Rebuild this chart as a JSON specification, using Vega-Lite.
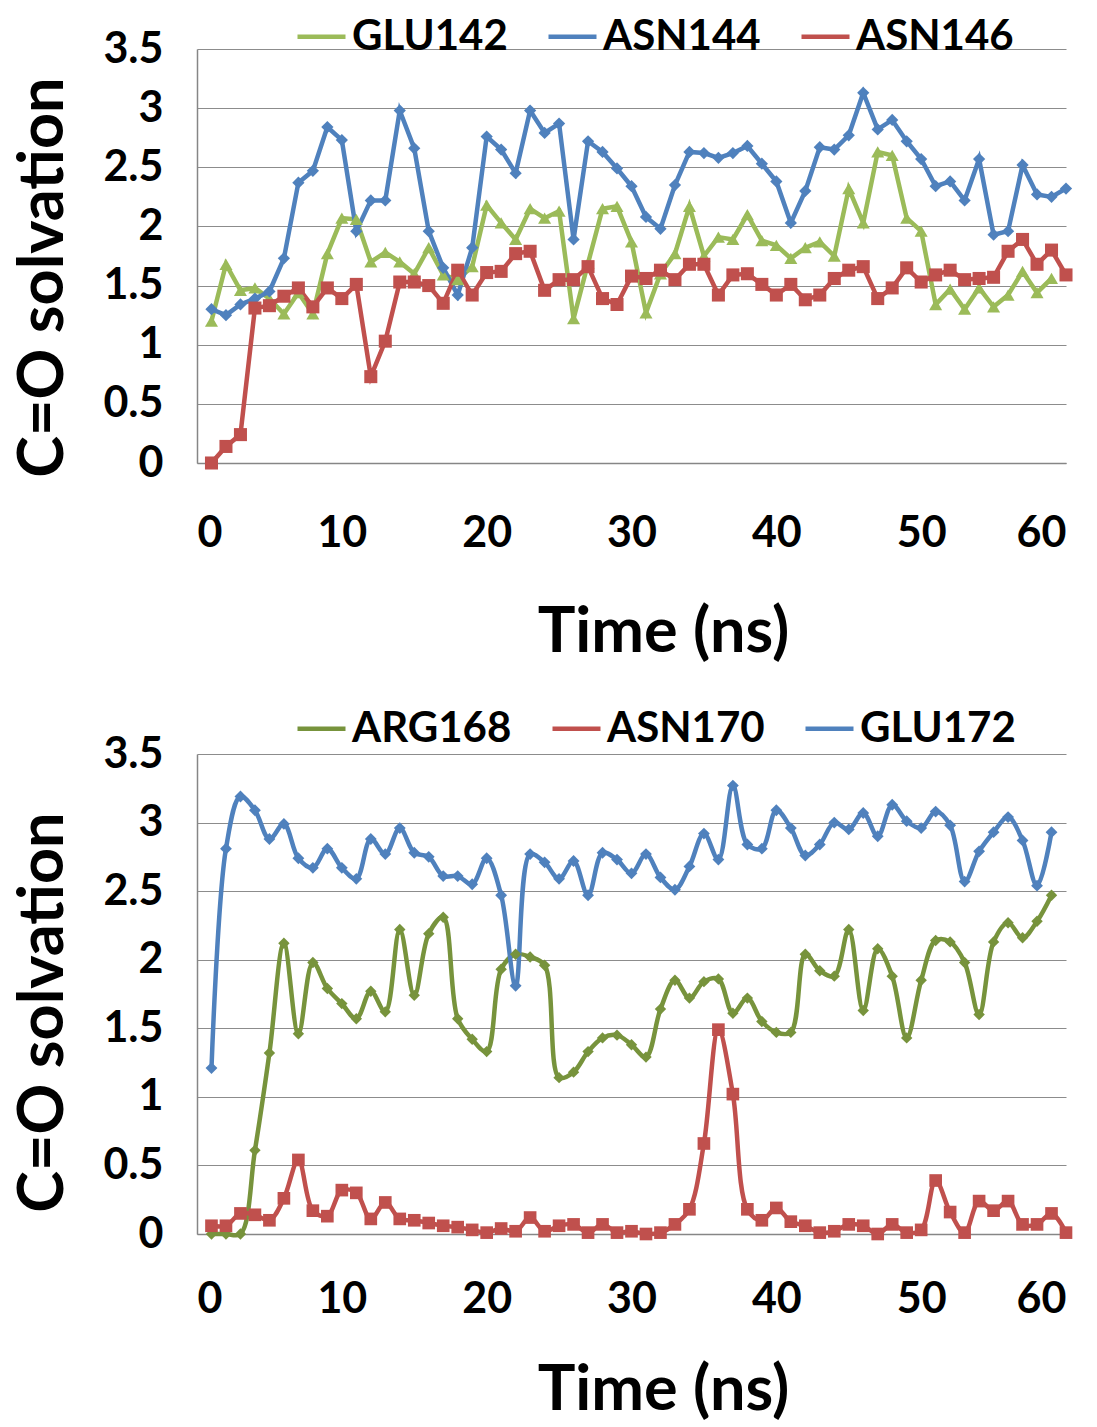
{
  "$schema": "https://vega.github.io/schema/vega-lite/v6.json",
  "padding": {"left": 12, "top": 10, "right": 5, "bottom": 0},
  "background": "white",
  "spacing": 38,
  "datasets": {
    "top": [
      {"t":1,"GLU142":1.20,"ASN144":1.30,"ASN146":0.00},
      {"t":2,"GLU142":1.68,"ASN144":1.25,"ASN146":0.14},
      {"t":3,"GLU142":1.46,"ASN144":1.34,"ASN146":0.24},
      {"t":4,"GLU142":1.48,"ASN144":1.39,"ASN146":1.31},
      {"t":5,"GLU142":1.39,"ASN144":1.45,"ASN146":1.33},
      {"t":6,"GLU142":1.26,"ASN144":1.73,"ASN146":1.41},
      {"t":7,"GLU142":1.44,"ASN144":2.37,"ASN146":1.48},
      {"t":8,"GLU142":1.26,"ASN144":2.47,"ASN146":1.32},
      {"t":9,"GLU142":1.77,"ASN144":2.84,"ASN146":1.48},
      {"t":10,"GLU142":2.07,"ASN144":2.73,"ASN146":1.39},
      {"t":11,"GLU142":2.06,"ASN144":1.96,"ASN146":1.51},
      {"t":12,"GLU142":1.70,"ASN144":2.22,"ASN146":0.73},
      {"t":13,"GLU142":1.78,"ASN144":2.22,"ASN146":1.03},
      {"t":14,"GLU142":1.70,"ASN144":2.98,"ASN146":1.53},
      {"t":15,"GLU142":1.60,"ASN144":2.66,"ASN146":1.53},
      {"t":16,"GLU142":1.82,"ASN144":1.96,"ASN146":1.50},
      {"t":17,"GLU142":1.59,"ASN144":1.65,"ASN146":1.35},
      {"t":18,"GLU142":1.55,"ASN144":1.42,"ASN146":1.63},
      {"t":19,"GLU142":1.66,"ASN144":1.82,"ASN146":1.42},
      {"t":20,"GLU142":2.18,"ASN144":2.76,"ASN146":1.61},
      {"t":21,"GLU142":2.03,"ASN144":2.65,"ASN146":1.62},
      {"t":22,"GLU142":1.89,"ASN144":2.45,"ASN146":1.77},
      {"t":23,"GLU142":2.15,"ASN144":2.98,"ASN146":1.79},
      {"t":24,"GLU142":2.07,"ASN144":2.79,"ASN146":1.46},
      {"t":25,"GLU142":2.13,"ASN144":2.87,"ASN146":1.55},
      {"t":26,"GLU142":1.22,"ASN144":1.89,"ASN146":1.55},
      {"t":27,"GLU142":1.69,"ASN144":2.72,"ASN146":1.66},
      {"t":28,"GLU142":2.15,"ASN144":2.63,"ASN146":1.39},
      {"t":29,"GLU142":2.17,"ASN144":2.49,"ASN146":1.34},
      {"t":30,"GLU142":1.87,"ASN144":2.34,"ASN146":1.58},
      {"t":31,"GLU142":1.27,"ASN144":2.08,"ASN146":1.56},
      {"t":32,"GLU142":1.60,"ASN144":1.98,"ASN146":1.63},
      {"t":33,"GLU142":1.77,"ASN144":2.35,"ASN146":1.55},
      {"t":34,"GLU142":2.17,"ASN144":2.63,"ASN146":1.68},
      {"t":35,"GLU142":1.75,"ASN144":2.62,"ASN146":1.68},
      {"t":36,"GLU142":1.91,"ASN144":2.58,"ASN146":1.42},
      {"t":37,"GLU142":1.89,"ASN144":2.62,"ASN146":1.59},
      {"t":38,"GLU142":2.10,"ASN144":2.68,"ASN146":1.60},
      {"t":39,"GLU142":1.88,"ASN144":2.53,"ASN146":1.51},
      {"t":40,"GLU142":1.84,"ASN144":2.38,"ASN146":1.42},
      {"t":41,"GLU142":1.73,"ASN144":2.03,"ASN146":1.51},
      {"t":42,"GLU142":1.82,"ASN144":2.30,"ASN146":1.38},
      {"t":43,"GLU142":1.87,"ASN144":2.67,"ASN146":1.42},
      {"t":44,"GLU142":1.75,"ASN144":2.65,"ASN146":1.56},
      {"t":45,"GLU142":2.32,"ASN144":2.77,"ASN146":1.63},
      {"t":46,"GLU142":2.03,"ASN144":3.13,"ASN146":1.66},
      {"t":47,"GLU142":2.63,"ASN144":2.82,"ASN146":1.39},
      {"t":48,"GLU142":2.60,"ASN144":2.90,"ASN146":1.48},
      {"t":49,"GLU142":2.07,"ASN144":2.72,"ASN146":1.65},
      {"t":50,"GLU142":1.96,"ASN144":2.57,"ASN146":1.53},
      {"t":51,"GLU142":1.34,"ASN144":2.34,"ASN146":1.59},
      {"t":52,"GLU142":1.47,"ASN144":2.38,"ASN146":1.63},
      {"t":53,"GLU142":1.30,"ASN144":2.22,"ASN146":1.55},
      {"t":54,"GLU142":1.48,"ASN144":2.57,"ASN146":1.56},
      {"t":55,"GLU142":1.32,"ASN144":1.93,"ASN146":1.57},
      {"t":56,"GLU142":1.42,"ASN144":1.96,"ASN146":1.79},
      {"t":57,"GLU142":1.62,"ASN144":2.52,"ASN146":1.89},
      {"t":58,"GLU142":1.44,"ASN144":2.27,"ASN146":1.68},
      {"t":59,"GLU142":1.56,"ASN144":2.25,"ASN146":1.80},
      {"t":60,"GLU142":null,"ASN144":2.32,"ASN146":1.59}
    ],
    "bottom": [
      {"t":1,"ARG168":0.00,"ASN170":0.06,"GLU172":1.21},
      {"t":2,"ARG168":0.00,"ASN170":0.06,"GLU172":2.81},
      {"t":3,"ARG168":0.00,"ASN170":0.15,"GLU172":3.19},
      {"t":4,"ARG168":0.61,"ASN170":0.14,"GLU172":3.09},
      {"t":5,"ARG168":1.32,"ASN170":0.10,"GLU172":2.88},
      {"t":6,"ARG168":2.12,"ASN170":0.26,"GLU172":2.99},
      {"t":7,"ARG168":1.46,"ASN170":0.54,"GLU172":2.74},
      {"t":8,"ARG168":1.98,"ASN170":0.17,"GLU172":2.67},
      {"t":9,"ARG168":1.79,"ASN170":0.13,"GLU172":2.81},
      {"t":10,"ARG168":1.68,"ASN170":0.32,"GLU172":2.67},
      {"t":11,"ARG168":1.57,"ASN170":0.30,"GLU172":2.59},
      {"t":12,"ARG168":1.77,"ASN170":0.11,"GLU172":2.88},
      {"t":13,"ARG168":1.62,"ASN170":0.23,"GLU172":2.77},
      {"t":14,"ARG168":2.22,"ASN170":0.11,"GLU172":2.96},
      {"t":15,"ARG168":1.74,"ASN170":0.10,"GLU172":2.78},
      {"t":16,"ARG168":2.19,"ASN170":0.08,"GLU172":2.75},
      {"t":17,"ARG168":2.31,"ASN170":0.06,"GLU172":2.61},
      {"t":18,"ARG168":1.57,"ASN170":0.05,"GLU172":2.61},
      {"t":19,"ARG168":1.42,"ASN170":0.03,"GLU172":2.55},
      {"t":20,"ARG168":1.33,"ASN170":0.01,"GLU172":2.74},
      {"t":21,"ARG168":1.93,"ASN170":0.04,"GLU172":2.47},
      {"t":22,"ARG168":2.04,"ASN170":0.02,"GLU172":1.81},
      {"t":23,"ARG168":2.02,"ASN170":0.12,"GLU172":2.77},
      {"t":24,"ARG168":1.96,"ASN170":0.02,"GLU172":2.71},
      {"t":25,"ARG168":1.14,"ASN170":0.06,"GLU172":2.59},
      {"t":26,"ARG168":1.18,"ASN170":0.07,"GLU172":2.72},
      {"t":27,"ARG168":1.33,"ASN170":0.01,"GLU172":2.47},
      {"t":28,"ARG168":1.43,"ASN170":0.07,"GLU172":2.78},
      {"t":29,"ARG168":1.45,"ASN170":0.01,"GLU172":2.73},
      {"t":30,"ARG168":1.38,"ASN170":0.02,"GLU172":2.63},
      {"t":31,"ARG168":1.29,"ASN170":0.00,"GLU172":2.77},
      {"t":32,"ARG168":1.64,"ASN170":0.01,"GLU172":2.60},
      {"t":33,"ARG168":1.85,"ASN170":0.07,"GLU172":2.51},
      {"t":34,"ARG168":1.72,"ASN170":0.18,"GLU172":2.68},
      {"t":35,"ARG168":1.84,"ASN170":0.66,"GLU172":2.92},
      {"t":36,"ARG168":1.86,"ASN170":1.49,"GLU172":2.73},
      {"t":37,"ARG168":1.61,"ASN170":1.02,"GLU172":3.27},
      {"t":38,"ARG168":1.72,"ASN170":0.18,"GLU172":2.84},
      {"t":39,"ARG168":1.55,"ASN170":0.10,"GLU172":2.81},
      {"t":40,"ARG168":1.47,"ASN170":0.19,"GLU172":3.09},
      {"t":41,"ARG168":1.47,"ASN170":0.09,"GLU172":2.96},
      {"t":42,"ARG168":2.04,"ASN170":0.06,"GLU172":2.76},
      {"t":43,"ARG168":1.92,"ASN170":0.01,"GLU172":2.84},
      {"t":44,"ARG168":1.88,"ASN170":0.02,"GLU172":3.00},
      {"t":45,"ARG168":2.22,"ASN170":0.07,"GLU172":2.95},
      {"t":46,"ARG168":1.63,"ASN170":0.06,"GLU172":3.07},
      {"t":47,"ARG168":2.08,"ASN170":0.00,"GLU172":2.90},
      {"t":48,"ARG168":1.88,"ASN170":0.07,"GLU172":3.13},
      {"t":49,"ARG168":1.43,"ASN170":0.01,"GLU172":3.01},
      {"t":50,"ARG168":1.85,"ASN170":0.03,"GLU172":2.96},
      {"t":51,"ARG168":2.14,"ASN170":0.39,"GLU172":3.08},
      {"t":52,"ARG168":2.13,"ASN170":0.16,"GLU172":2.98},
      {"t":53,"ARG168":1.98,"ASN170":0.01,"GLU172":2.57},
      {"t":54,"ARG168":1.60,"ASN170":0.24,"GLU172":2.79},
      {"t":55,"ARG168":2.13,"ASN170":0.17,"GLU172":2.93},
      {"t":56,"ARG168":2.27,"ASN170":0.24,"GLU172":3.04},
      {"t":57,"ARG168":2.16,"ASN170":0.07,"GLU172":2.87},
      {"t":58,"ARG168":2.28,"ASN170":0.07,"GLU172":2.54},
      {"t":59,"ARG168":2.47,"ASN170":0.15,"GLU172":2.93},
      {"t":60,"ARG168":null,"ASN170":0.01,"GLU172":null}
    ]
  },
  "config": {
    "font": "Lato",
    "view": {"stroke": null},
    "axis": {
      "labelFont": "Lato", "labelFontWeight": "bold", "labelFontSize": 43, "labelColor": "#000000",
      "titleFont": "Lato", "titleFontWeight": "bold", "titleFontSize": 63, "titleColor": "#000000",
      "domainColor": "#868686", "domainWidth": 1.5, "gridColor": "#8c8c8c", "gridWidth": 1.2,
      "ticks": false
    },
    "axisX": {"grid": false},
    "axisY": {"grid": true, "labelPadding": 34, "titlePadding": 27},
    "legend": {
      "labelFont": "Lato", "labelFontWeight": "bold", "labelFontSize": 42, "labelColor": "#000000",
      "direction": "horizontal", "orient": "none", "padding": 0, "labelOffset": 4, "columnPadding": 31,
      "symbolSize": 2304, "symbolStrokeWidth": 4.5
    }
  },
  "resolve": {"scale": {"color": "independent"}, "legend": {"color": "independent"}},
  "vconcat": [
    {
      "width": 869, "height": 414,
      "data": {"name": "top"},
      "transform": [
        {"fold": ["GLU142", "ASN144", "ASN146"], "as": ["series", "value"]},
        {"filter": "isValid(datum.value)"}
      ],
      "encoding": {
        "x": {"field": "t", "type": "quantitative", "scale": {"domain": [0, 60]},
              "axis": {"values": [0, 10, 20, 30, 40, 50, 60], "title": "Time (ns)", "labelPadding": 49, "titlePadding": 46, "titleX": 466}},
        "y": {"field": "value", "type": "quantitative", "scale": {"domain": [0, 3.5]},
              "axis": {"values": [0, 0.5, 1, 1.5, 2, 2.5, 3, 3.5], "format": "~g", "title": "C=O solvation", "titleY": 228}}
      },
      "layer": [
        {"mark": {"type": "line", "strokeWidth": 4.5},
         "encoding": {"color": {"field": "series", "type": "nominal",
                  "scale": {"domain": ["GLU142", "ASN144", "ASN146"], "range": ["#9BBB59", "#4F81BD", "#C0504D"]},
                  "legend": {"title": null, "legendX": 98, "legendY": -39}}}},
        {"transform": [{"filter": "datum.series === 'GLU142'"}],
         "mark": {"type": "point", "filled": true, "opacity": 1, "size": 170, "shape": "triangle-up", "color": "#9BBB59"}},
        {"transform": [{"filter": "datum.series === 'ASN144'"}],
         "mark": {"type": "point", "filled": true, "opacity": 1, "size": 150, "shape": "diamond", "color": "#4F81BD"}},
        {"transform": [{"filter": "datum.series === 'ASN146'"}],
         "mark": {"type": "point", "filled": true, "opacity": 1, "size": 170, "shape": "square", "color": "#C0504D"}}
      ]
    },
    {
      "width": 869, "height": 480,
      "data": {"name": "bottom"},
      "transform": [
        {"fold": ["ARG168", "ASN170", "GLU172"], "as": ["series", "value"]},
        {"filter": "isValid(datum.value)"}
      ],
      "encoding": {
        "x": {"field": "t", "type": "quantitative", "scale": {"domain": [0, 60]},
              "axis": {"values": [0, 10, 20, 30, 40, 50, 60], "title": "Time (ns)", "labelPadding": 44, "titlePadding": 38, "titleX": 466}},
        "y": {"field": "value", "type": "quantitative", "scale": {"domain": [0, 3.5]},
              "axis": {"values": [0, 0.5, 1, 1.5, 2, 2.5, 3, 3.5], "format": "~g", "title": "C=O solvation", "titleY": 258}}
      },
      "layer": [
        {"mark": {"type": "line", "strokeWidth": 4.5, "interpolate": "catmull-rom"},
         "encoding": {"color": {"field": "series", "type": "nominal",
                  "scale": {"domain": ["ARG168", "ASN170", "GLU172"], "range": ["#77933C", "#C0504D", "#4F81BD"]},
                  "legend": {"title": null, "legendX": 98, "legendY": -52}}}},
        {"transform": [{"filter": "datum.series === 'ARG168'"}],
         "mark": {"type": "point", "filled": true, "opacity": 1, "size": 130, "shape": "diamond", "color": "#77933C"}},
        {"transform": [{"filter": "datum.series === 'ASN170'"}],
         "mark": {"type": "point", "filled": true, "opacity": 1, "size": 160, "shape": "square", "color": "#C0504D"}},
        {"transform": [{"filter": "datum.series === 'GLU172'"}],
         "mark": {"type": "point", "filled": true, "opacity": 1, "size": 140, "shape": "diamond", "color": "#4F81BD"}}
      ]
    }
  ]
}
